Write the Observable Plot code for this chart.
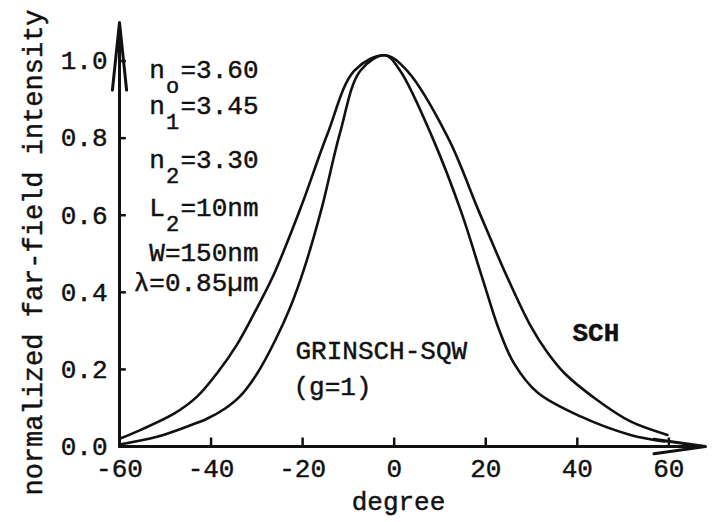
<!DOCTYPE html>
<html>
<head>
<meta charset="utf-8">
<script src="https://cdn.jsdelivr.net/npm/d3@7"></script>
<script src="https://cdn.jsdelivr.net/npm/@observablehq/plot@0.6"></script>
<style>
  html, body { margin: 0; padding: 0; background: #fff; }
  #chart svg { display: block; }
  #chart svg text { stroke: #111; stroke-width: 0.45px; }
</style>
</head>
<body>
<div id="chart"></div>
<script>
// ---- data ----
const xTicks = [-60, -40, -20, 0, 20, 40, 60];
const yTicks = [0, 0.2, 0.4, 0.6, 0.8, 1.0];

const schDeg = [-60, -55.6, -48.1, -43, -38.7, -34.3, -29.9, -26.2, -20.4, -14.6, -8.7, -2, 2.8, 11.8, 18.5, 24.7, 29.7, 33.4, 37.2, 44.4, 51.6, 59.7];
const schVal = [0.02, 0.042, 0.085, 0.13, 0.19, 0.265, 0.361, 0.449, 0.62, 0.81, 0.975, 1.015, 0.975, 0.80, 0.61, 0.439, 0.315, 0.245, 0.19, 0.12, 0.065, 0.03];

const grDeg = [-60, -51.8, -44.5, -40.9, -37, -33.7, -29.9, -26.0, -22.7, -19.7, -15.9, -11.8, -7.4, -2, 1.3, 8.4, 14.6, 19.2, 23.0, 26.2, 31.3, 40.7, 51.6, 59];
const grVal = [0.005, 0.025, 0.055, 0.072, 0.098, 0.13, 0.19, 0.275, 0.361, 0.46, 0.615, 0.815, 0.975, 1.015, 0.975, 0.80, 0.61, 0.439, 0.30, 0.215, 0.14, 0.078, 0.03, 0.013];

// parameter block: symbol, subscript, value part
const paramHeads = ["n", "n", "n", "L"];
const paramSubs = ["o", "1", "2", "2"];
const paramTails = ["=3.60", "=3.45", "=3.30", "=10nm", "W=150nm", "λ=0.85µm"];
const curveLabels = ["GRINSCH-SQW", "(g=1)", "SCH"];
const xLabel = "degree";
const yLabel = "normalized far-field intensity";

// ---- scale settings ----
const xDomain = [-60, 68];
const yDomain = [0, 1.1];

// ---- build table ----
const rows = [
  ...schDeg.map((d, i) => ({series: "SCH", deg: d, val: schVal[i]})),
  ...grDeg.map((d, i) => ({series: "GRINSCH", deg: d, val: grVal[i]}))
];

// ---- layout (pixel offsets from the frame's top-left) ----
const paramDy = [55, 91, 145, 193, 238, 268];
const paramDx = 139;          // right edge of the value part
const charW = 15.6;           // monospace advance at 26px
const subShift = 15;
const font = "'Liberation Mono', 'DejaVu Sans Mono', monospace";
const ink = "#111";

const textOpts = {fontFamily: font, fill: ink, lineAnchor: "bottom"};

const marks = [
  // axes with arrows
  Plot.arrow([0], {x1: xDomain[0], y1: yDomain[0], x2: xDomain[0], y2: yDomain[1],
    stroke: ink, strokeWidth: 3, headLength: 34, headAngle: 12}),
  Plot.arrow([0], {x1: xDomain[0], y1: yDomain[0], x2: xDomain[1], y2: yDomain[0],
    stroke: ink, strokeWidth: 3, headLength: 26, headAngle: 16}),
  // inward ticks
  Plot.ruleX(xTicks.filter(d => d > xDomain[0]), {x: d => d, y1: 0, y2: 0.022, stroke: ink, strokeWidth: 2.5}),
  Plot.ruleY(yTicks.filter(d => d > 0), {y: d => d, x1: -60, x2: -58.5, stroke: ink, strokeWidth: 2.5}),
  // curves
  Plot.line(rows, {x: "deg", y: "val", z: "series", curve: "catmull-rom",
    stroke: ink, strokeWidth: 2.6}),
  // axis titles
  Plot.text([xLabel], {frameAnchor: "bottom", textAnchor: "middle", lineAnchor: "middle",
    dx: -14, dy: 55, fontSize: 26, fontFamily: font, fill: ink}),
  Plot.text([yLabel], {frameAnchor: "left", textAnchor: "middle", lineAnchor: "middle",
    dx: -86, dy: 18, rotate: -90, fontSize: 27, fontFamily: font, fill: ink}),
  // parameter block
  ...paramTails.map((t, i) => Plot.text([t], {...textOpts, frameAnchor: "top-left",
    dx: paramDx, dy: paramDy[i], textAnchor: "end", fontSize: 26})),
  ...paramHeads.map((t, i) => Plot.text([t], {...textOpts, frameAnchor: "top-left",
    dx: paramDx - 6 * charW, dy: paramDy[i], textAnchor: "end", fontSize: 26})),
  ...paramSubs.map((t, i) => Plot.text([t], {...textOpts, frameAnchor: "top-left",
    dx: paramDx - 5.5 * charW, dy: paramDy[i] + subShift, textAnchor: "middle", fontSize: 22})),
  // curve labels
  Plot.text([curveLabels[0]], {...textOpts, frameAnchor: "top-left", dx: 176, dy: 336,
    textAnchor: "start", fontSize: 26}),
  Plot.text([curveLabels[1]], {...textOpts, frameAnchor: "top-left", dx: 174, dy: 372,
    textAnchor: "start", fontSize: 26}),
  Plot.text([curveLabels[2]], {...textOpts, frameAnchor: "top-left", dx: 453, dy: 318,
    textAnchor: "start", fontSize: 26, fontWeight: "bold"})
];

const chart = Plot.plot({
  width: 717,
  height: 522,
  marginLeft: 119,
  marginRight: 12,
  marginTop: 22,
  marginBottom: 76,
  style: {fontFamily: font, fontSize: "26px", color: ink, background: "#fff"},
  x: {domain: xDomain, ticks: xTicks, tickFormat: d => String(d), tickSize: 0, tickPadding: 12, label: null},
  y: {domain: yDomain, ticks: yTicks, tickFormat: d => d.toFixed(1), tickSize: 0, tickPadding: 12, label: null},
  marks
});
document.getElementById("chart").appendChild(chart);
</script>
</body>
</html>
